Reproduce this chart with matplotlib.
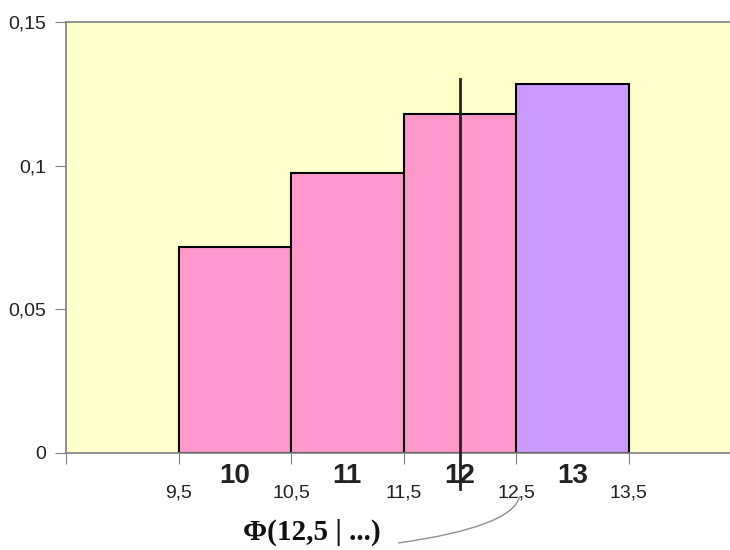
import matplotlib
matplotlib.use("Agg")
import matplotlib.pyplot as plt

# Data
edges_left = [9.5, 10.5, 11.5, 12.5]
heights = [0.0717, 0.0974, 0.118, 0.1284]
bar_colors = ["#FF99CC", "#FF99CC", "#FF99CC", "#CC99FF"]
bar_labels = ["10", "11", "12", "13"]
x_ticks = [8.5, 9.5, 10.5, 11.5, 12.5, 13.5]
x_tick_labels = ["", "9,5", "10,5", "11,5", "12,5", "13,5"]
y_ticks = [0, 0.05, 0.1, 0.15]
y_tick_labels = ["0", "0,05", "0,1", "0,15"]
marker_x = 12.0

plt.rcParams["font.family"] = ["Liberation Sans", "DejaVu Sans"]

fig = plt.figure(figsize=(7.3, 5.5), dpi=100)
ax = fig.add_axes([0.0904, 0.1764, 0.9096, 0.7836])
ax.set_facecolor("#FFFFCC")

ax.bar(edges_left, heights, width=1.0, align="edge", color=bar_colors,
       edgecolor="black", linewidth=1.5, zorder=2)

ax.set_xlim(8.5, 14.4)
ax.set_ylim(0, 0.15)

ax.set_xticks(x_ticks)
ax.set_xticklabels(x_tick_labels, fontsize=14, color="#222222")
ax.set_yticks(y_ticks)
ax.set_yticklabels(y_tick_labels, fontsize=14, color="#222222")
ax.tick_params(axis="x", length=8, pad=15, color="#808080")
ax.tick_params(axis="y", length=8, pad=6, color="#808080")

for s in ["top", "left", "bottom"]:
    ax.spines[s].set_color("#808080")
    ax.spines[s].set_linewidth(1.2)
ax.spines["right"].set_visible(False)

# Bold class labels under each bar
for x, lab in zip(edges_left, bar_labels):
    ax.text(x + 0.5, -0.008, lab, ha="center", va="center", fontsize=20,
            fontweight="bold", color="#222222", clip_on=False)

# Vertical marker line
ax.plot([marker_x, marker_x], [-0.0125, 0.13], color="#222222", lw=2,
        zorder=3, clip_on=False)

# Annotation text and connector curve
ax.text(10.68, -0.0275, "Φ(12,5 | ...)", fontsize=21, fontweight="bold",
        family="Liberation Serif", ha="center", va="center",
        color="#111111", clip_on=False)
ax.annotate("", xy=(12.53, -0.0153), xytext=(11.455, -0.0313),
            annotation_clip=False,
            arrowprops=dict(arrowstyle="-", color="#909090", lw=1,
                            shrinkA=0, shrinkB=0,
                            connectionstyle="angle3,angleA=8,angleB=75"))

fig.savefig("out.png", dpi=100)
